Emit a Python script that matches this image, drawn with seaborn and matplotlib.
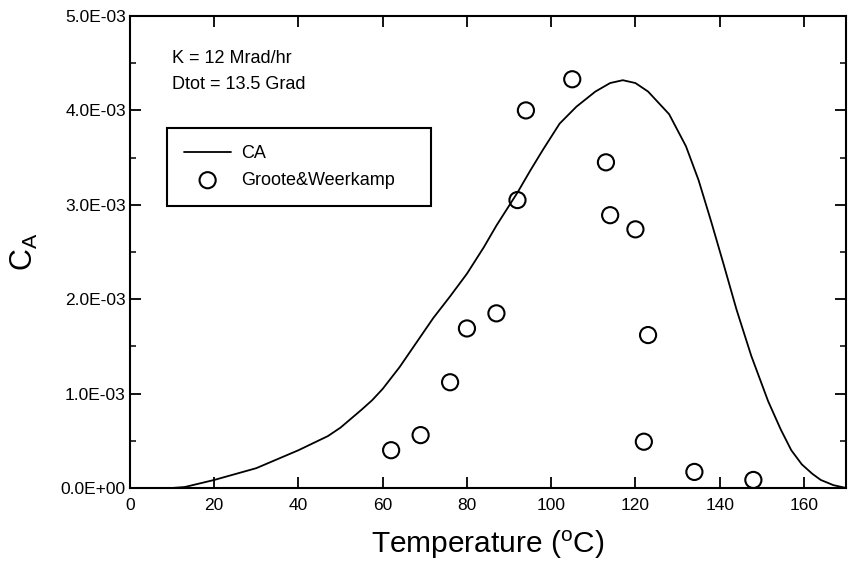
import matplotlib
matplotlib.use("Agg")
import matplotlib.pyplot as plt
from matplotlib.ticker import FuncFormatter, MultipleLocator
import pandas as pd
import seaborn as sns

# Model curve CA (temperature in °C, concentration)
ca_temp = [0, 5, 10, 13, 20, 30, 40, 47, 50, 55, 57.5, 60, 64, 68, 72, 76,
           80, 84, 87, 92, 95, 98, 102, 106, 110.5, 114, 117, 120, 123, 128,
           132, 135, 138, 141, 144, 147.5, 151.5, 154.5, 157, 159.5, 162, 164,
           167, 170]
ca_value = [0, 0, 0, 0.00001, 0.000085, 0.00021, 0.00040, 0.00055, 0.00064,
            0.00083, 0.00093, 0.00105, 0.00128, 0.00154, 0.00180, 0.00203,
            0.00227, 0.00255, 0.00278, 0.00313, 0.00336, 0.00358, 0.00386,
            0.00404, 0.00420, 0.00429, 0.00432, 0.00429, 0.00420, 0.00396,
            0.00362, 0.00326, 0.00282, 0.00236, 0.00189, 0.00140, 0.00092,
            0.00062, 0.00040, 0.00025, 0.00015, 0.000085, 0.00003, 0.0]

# Measurements by Groote & Weerkamp
gw_temp = [62, 69, 76, 80, 87, 92, 94, 105, 113, 114, 120, 123, 122, 134, 148]
gw_value = [0.00040, 0.00056, 0.00112, 0.00169, 0.00185, 0.00305, 0.00400,
            0.00433, 0.00345, 0.00289, 0.00274, 0.00162, 0.00049, 0.00017,
            0.000085]

x_ticks = [0, 20, 40, 60, 80, 100, 120, 140, 160]
y_ticks = [0.0, 0.001, 0.002, 0.003, 0.004, 0.005]

sns.set_style("ticks")
plt.rcParams["font.family"] = ["Liberation Sans", "DejaVu Sans"]
plt.rcParams["mathtext.fontset"] = "custom"
plt.rcParams["mathtext.rm"] = "Liberation Sans"
plt.rcParams["mathtext.it"] = "Liberation Sans"
for key in ["text.color", "axes.labelcolor", "xtick.color", "ytick.color",
            "axes.edgecolor"]:
    plt.rcParams[key] = "black"

curve = pd.DataFrame({"T": ca_temp, "C": ca_value})
points = pd.DataFrame({"T": gw_temp, "C": gw_value})

fig = plt.figure(figsize=(8.49, 5.64), dpi=100)
ax = fig.add_axes([0.1531, 0.1348, 0.8434, 0.8368])

sns.lineplot(data=curve, x="T", y="C", ax=ax, color="black", linewidth=1.3,
             label="CA", sort=False)
sns.scatterplot(data=points, x="T", y="C", ax=ax, marker="o", s=135,
                facecolor="none", edgecolor="black", linewidth=1.5,
                label="Groote&Weerkamp", zorder=3)

ax.set_xlim(0, 170)
ax.set_ylim(0, 0.005)
ax.set_xticks(x_ticks)
ax.set_yticks(y_ticks)
ax.yaxis.set_minor_locator(MultipleLocator(0.0005))
ax.yaxis.set_major_formatter(FuncFormatter(lambda v, p: f"{v:.1E}"))

for s in ax.spines.values():
    s.set_linewidth(1.5)
    s.set_color("black")
    s.set_visible(True)

ax.tick_params(which="major", direction="in", length=8, width=1.3,
               top=True, right=True, labelsize=12.5, colors="black")
ax.tick_params(axis="x", which="major", pad=7.5)
ax.tick_params(axis="y", which="major", pad=3)
ax.tick_params(which="minor", direction="in", length=4, width=1.1,
               left=True, right=True)

ax.set_xlabel("Temperature ($^{\\mathrm{o}}$C)", fontsize=21.5, labelpad=11)
ax.set_ylabel("C$_{\\mathrm{A}}$", fontsize=22)
ax.yaxis.set_label_coords(-0.125, 0.5)

ax.text(0.0587, 0.911, "K = 12 Mrad/hr", transform=ax.transAxes,
        fontsize=13, va="center")
ax.text(0.0587, 0.854, "Dtot = 13.5 Grad", transform=ax.transAxes,
        fontsize=13, va="center")

leg = ax.legend(loc="upper left", bbox_to_anchor=(0.0517, 0.5, 0.3687, 0.263),
                mode="expand", fontsize=13, frameon=True, fancybox=False,
                handlelength=2.6, borderpad=0.95, labelspacing=0.55,
                handletextpad=0.55, borderaxespad=0)
leg.get_frame().set_edgecolor("black")
leg.get_frame().set_linewidth(1.5)
leg.get_frame().set_alpha(1)

fig.savefig("out.png", dpi=100)
